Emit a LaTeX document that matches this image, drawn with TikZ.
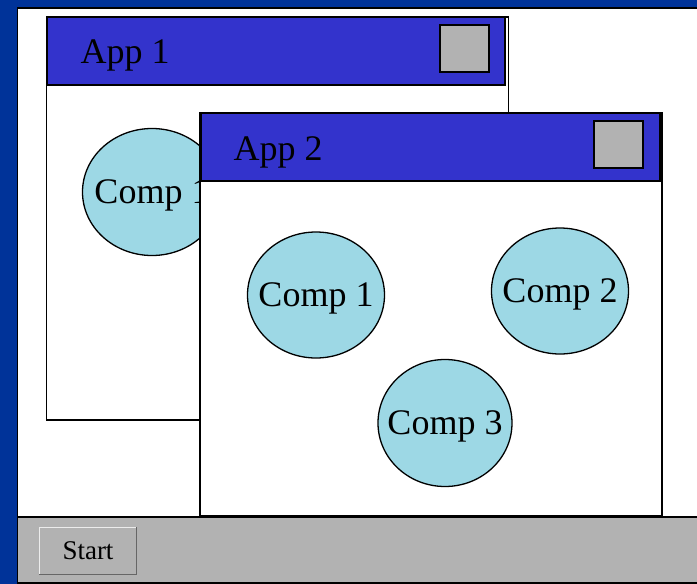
\documentclass[tikz,border=0pt]{standalone}
\usepackage{fontspec}
\setmainfont{Liberation Serif}
\usetikzlibrary{shapes.geometric}
\definecolor{deskblue}{RGB}{0,51,153}
\definecolor{barblue}{RGB}{51,51,204}
\definecolor{compblue}{RGB}{157,216,229}
\definecolor{panelgray}{RGB}{178,178,178}
\begin{document}
\begin{tikzpicture}[x=1pt,y=-1pt,line width=1.3pt,
  win/.style={draw,fill=white,minimum width=462pt,minimum height=403pt,inner sep=0pt},
  titlebar/.style={draw,fill=barblue,minimum width=458pt,minimum height=68pt,inner sep=0pt},
  closebox/.style={draw,fill=panelgray,minimum width=49pt,minimum height=47pt,inner sep=0pt},
  comp/.style={draw,ellipse,fill=compblue,minimum width=137pt,minimum height=126pt,inner xsep=-14pt,inner ysep=0pt,text depth=0pt,font=\fontsize{36}{40}\selectfont},
  wintitle/.style={anchor=base west,inner sep=0pt,font=\fontsize{36}{40}\selectfont}]
  \useasboundingbox (0,0) rectangle (697,584);
  % desktop and taskbar
  \fill[deskblue] (0,0) rectangle (697,584);
  \node[draw,fill=white,minimum width=680pt,minimum height=509pt,inner sep=0pt] (desk) at (357.5,262.5) {};
  \node[draw,fill=panelgray,minimum width=680pt,minimum height=66pt,inner sep=0pt] (taskbar) at (357.5,550) {};
  \node[minimum width=96pt,minimum height=46pt,inner sep=0pt,text depth=0pt,font=\fontsize{27}{30}\selectfont] (start) at (88,551) {Start};
  \draw[white!85!gray,line width=1.5pt] (start.south west) -- (start.north west) -- (start.north east);
  \draw[gray!80!black,line width=1.5pt] (start.north east) -- (start.south east) -- (start.south west);
  % first window
  \node[win] (app1) at (277.5,218.5) {};
  \node[titlebar] (bar1) at (276,51) {};
  \node[closebox] (close1) at (464.5,48.5) {};
  \node[wintitle] (title1) at (80,63) {App 1};
  \node[comp,minimum width=139pt,minimum height=127pt] (c0) at (152,192) {Comp 1};
  % second window, in front
  \node[win] (app2) at (431,314.5) {};
  \node[titlebar,minimum width=459pt] (bar2) at (430.5,147) {};
  \node[closebox] (close2) at (618.5,144.5) {};
  \node[wintitle] (title2) at (233,160) {App 2};
  \node[comp] (c1) at (316,295) {Comp 1};
  \node[comp] (c2) at (560,291) {Comp 2};
  \node[comp,minimum width=134pt,minimum height=127pt] (c3) at (445,423) {Comp 3};
\end{tikzpicture}
\end{document}
